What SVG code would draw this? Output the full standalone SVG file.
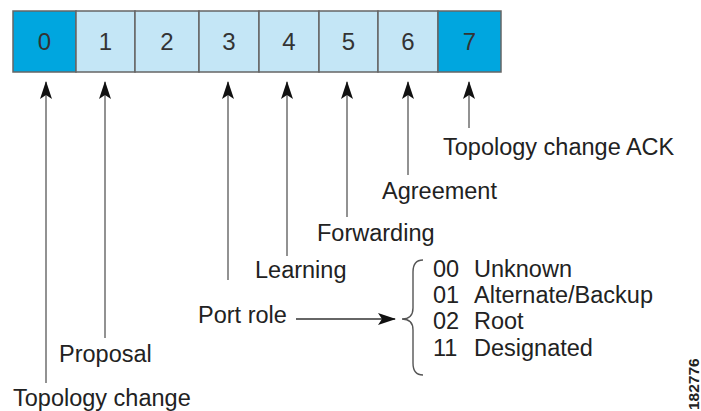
<svg xmlns="http://www.w3.org/2000/svg" width="701" height="411" viewBox="0 0 701 411">
<style>
text{font-family:"Liberation Sans",Arial,sans-serif;fill:#222;}
.lbl{font-size:23.5px;}
.num{font-size:24px;text-anchor:middle;fill:#333;}
.dark{fill:#00A6DF;stroke:#666;stroke-width:1.5;}
.light{fill:#C4E6F6;stroke:#666;stroke-width:1.5;}
.ln{stroke:#777;stroke-width:1.6;fill:none;}
</style>
<defs>
<marker id="ah" markerWidth="18" markerHeight="14" refX="17" refY="7" orient="auto" markerUnits="userSpaceOnUse" viewBox="0 0 18 14">
<path d="M18 7 L0 1 L4 7 L0 13 Z" fill="#111"/>
</marker>
</defs>
<g id="bits">
<g id="bit0"><rect class="dark" x="13" y="11" width="63" height="61"/><text class="num" x="44.5" y="50">0</text></g>
<g id="bit1"><rect class="light" x="76" y="11" width="59" height="61"/><text class="num" x="105.5" y="50">1</text></g>
<g id="bit2"><rect class="light" x="135" y="11" width="64" height="61"/><text class="num" x="167" y="50">2</text></g>
<g id="bit3"><rect class="light" x="199" y="11" width="60" height="61"/><text class="num" x="229" y="50">3</text></g>
<g id="bit4"><rect class="light" x="259" y="11" width="60" height="61"/><text class="num" x="289" y="50">4</text></g>
<g id="bit5"><rect class="light" x="319" y="11" width="59" height="61"/><text class="num" x="348.5" y="50">5</text></g>
<g id="bit6"><rect class="light" x="378" y="11" width="60" height="61"/><text class="num" x="408" y="50">6</text></g>
<g id="bit7"><rect class="dark" x="438" y="11" width="63" height="61"/><text class="num" x="469.5" y="50">7</text></g>
</g>
<g id="connectors">
<line class="ln" x1="46" y1="383" x2="46" y2="82" marker-end="url(#ah)"/>
<line class="ln" x1="105" y1="338" x2="105" y2="82" marker-end="url(#ah)"/>
<line class="ln" x1="228" y1="280" x2="228" y2="82" marker-end="url(#ah)"/>
<line class="ln" x1="287" y1="256" x2="287" y2="82" marker-end="url(#ah)"/>
<line class="ln" x1="347" y1="217" x2="347" y2="82" marker-end="url(#ah)"/>
<line class="ln" x1="408" y1="175" x2="408" y2="82" marker-end="url(#ah)"/>
<line class="ln" x1="469" y1="128" x2="469" y2="82" marker-end="url(#ah)"/>
<line class="ln" x1="296" y1="319" x2="395" y2="319" marker-end="url(#ah)" style="stroke:#333;stroke-width:1.3"/>
</g>
<g id="labels">
<text class="lbl" x="13" y="406">Topology change</text>
<text class="lbl" x="59" y="362">Proposal</text>
<text class="lbl" x="198" y="323">Port role</text>
<text class="lbl" x="255" y="278">Learning</text>
<text class="lbl" x="317" y="241">Forwarding</text>
<text class="lbl" x="382" y="199">Agreement</text>
<text class="lbl" x="443" y="155">Topology change ACK</text>
</g>
<g id="roles">
<path d="M423 260 Q413 260 413 272 L413 308 Q413 319 402 319 Q413 319 413 330 L413 363 Q413 375 423 375" fill="none" stroke="#555" stroke-width="1.4"/>
<text class="lbl" x="433" y="277">00<tspan x="474">Unknown</tspan></text>
<text class="lbl" x="433" y="303">01<tspan x="474">Alternate/Backup</tspan></text>
<text class="lbl" x="433" y="329">02<tspan x="474">Root</tspan></text>
<text class="lbl" x="433" y="356">11<tspan x="474">Designated</tspan></text>
</g>
<text x="699" y="410" transform="rotate(-90 699 410)" style="font-size:15.5px;font-weight:bold;">182776</text>
</svg>
